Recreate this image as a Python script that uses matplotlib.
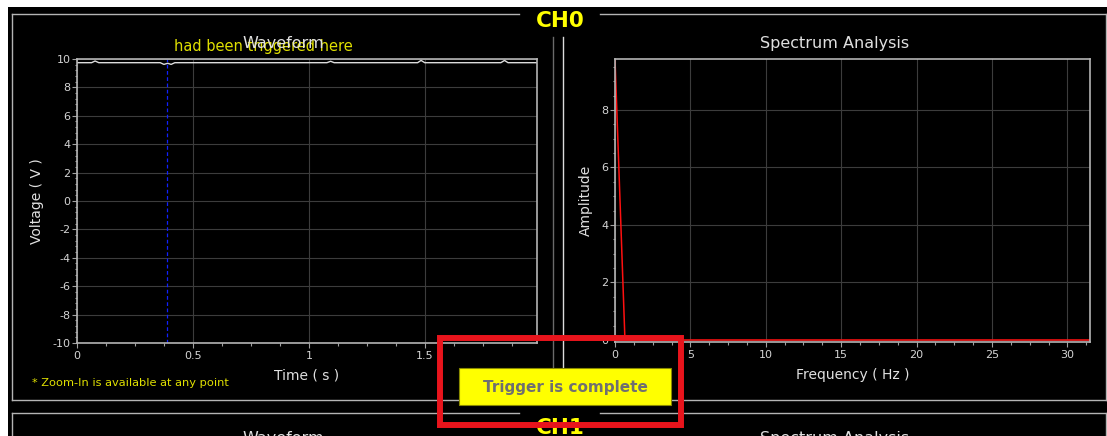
import matplotlib
matplotlib.use("Agg")
import matplotlib.pyplot as plt
from matplotlib.patches import Rectangle
from matplotlib.ticker import MultipleLocator, FormatStrFormatter

# waveform samples (time s, voltage V)
wave_t = [0.0, 0.063, 0.078, 0.094, 0.359, 0.375, 0.391, 0.406, 0.422,
          1.078, 1.094, 1.109, 1.469, 1.484, 1.5, 1.828, 1.844, 1.859, 1.984]
wave_v = [9.74, 9.74, 9.86, 9.74, 9.74, 9.62, 9.70, 9.62, 9.74,
          9.74, 9.84, 9.74, 9.74, 9.9, 9.74, 9.74, 9.9, 9.74, 9.74]
trigger_t = 0.39

# spectrum (Hz, amplitude)
freq = [0.0, 0.66, 31.5]
amp = [9.77, 0.0, 0.0]

W, H = 1107, 436


def px_box(x0, y0, x1, y1):
    return [x0 / W, 1 - y1 / H, (x1 - x0) / W, (y1 - y0) / H]


def style(ax):
    ax.set_facecolor("black")
    for s in ax.spines.values():
        s.set_color("#b4b4b4")
        s.set_linewidth(1.2)
    ax.grid(True, color="#3c3c3c", lw=0.8)
    ax.set_axisbelow(True)
    ax.tick_params(which="both", direction="out", colors="#a0a0a0",
                   labelcolor="#d4d4d4", labelsize=8)
    ax.tick_params(which="major", length=3.6, width=0.8, pad=1)
    ax.tick_params(which="minor", length=1.8, width=0.8)
    ax.tick_params(axis="x", which="major", pad=2.5)
    ax.xaxis.set_major_formatter(FormatStrFormatter("%g"))
    ax.yaxis.set_major_formatter(FormatStrFormatter("%g"))


fig = plt.figure(figsize=(W / 100, H / 100), dpi=100, facecolor="black")

# background: frame of the panels
bg = fig.add_axes([0, 0, 1, 1], zorder=-1)
bg.set_xlim(0, W)
bg.set_ylim(H, 0)
bg.axis("off")
bg.add_patch(Rectangle((0, 0), W, 7, color="white", lw=0))
bg.add_patch(Rectangle((0, 0), 8, H, color="white", lw=0))
edge = "#b4b4b4"
bg.plot([12, 519], [14, 14], color=edge, lw=1)
bg.plot([600, 1106], [14, 14], color=edge, lw=1)
bg.plot([12, 12], [14, 400], color=edge, lw=1)
bg.plot([1106, 1106], [14, 400], color=edge, lw=1)
bg.plot([12, 1106], [400, 400], color=edge, lw=1)
bg.plot([12, 519], [413, 413], color=edge, lw=1)
bg.plot([600, 1107], [413, 413], color=edge, lw=1)
bg.plot([12, 12], [413, H], color=edge, lw=1)
bg.plot([1106, 1106], [413, H], color=edge, lw=1)
bg.plot([553, 553], [37, 398], color="#6a6a6a", lw=1)
bg.plot([563, 563], [37, 398], color="#dcdcdc", lw=1)
bg.text(560, 21, "CH0", color="#ffff00", fontsize=15.5, fontweight="bold",
        ha="center", va="center")
bg.text(560, 418, "CH1", color="#ffff00", fontsize=15.5, fontweight="bold",
        ha="center", va="top")
bg.text(283, 431, "Waveform", color="#e0e0e0", fontsize=11.5, ha="center", va="top")
bg.text(835, 431, "Spectrum Analysis", color="#e0e0e0", fontsize=11.5,
        ha="center", va="top")
bg.text(32, 383, "* Zoom-In is available at any point", color="#e0e000",
        fontsize=8.2, ha="left", va="center")

# waveform
ax1 = fig.add_axes(px_box(77, 59, 537, 343))
style(ax1)
ax1.plot(wave_t, wave_v, color="#dcdcdc", lw=1)
ax1.axvline(trigger_t, color="#1020ff", lw=0.9, ls=(0, (3, 2)))
ax1.set_xlim(0, 1.984)
ax1.set_ylim(-10, 10)
ax1.xaxis.set_major_locator(MultipleLocator(0.5))
ax1.xaxis.set_minor_locator(MultipleLocator(0.125))
ax1.yaxis.set_major_locator(MultipleLocator(2))
ax1.yaxis.set_minor_locator(MultipleLocator(0.4))
ax1.set_title("Waveform", color="#e0e0e0", fontsize=11.5, x=0.448, y=1.056,
              va="center", pad=0)
ax1.set_xlabel("Time ( s )", color="#e0e0e0", fontsize=10, va="center")
ax1.xaxis.set_label_coords(0.5, -0.113)
ax1.set_ylabel("Voltage ( V )", color="#e0e0e0", fontsize=10, va="center")
ax1.yaxis.set_label_coords(-0.087, 0.5)
ax1.annotate("had been triggered here", xy=(trigger_t, 1),
             xycoords=("data", "axes fraction"), xytext=(7, 12),
             textcoords="offset pixels", color="#e0e000", fontsize=10.5,
             ha="left", va="center")

# spectrum
ax2 = fig.add_axes(px_box(615, 59, 1090, 342))
style(ax2)
ax2.plot(freq, amp, color="#ff1010", lw=1.1)
ax2.set_xlim(0, 31.5)
ax2.set_ylim(-0.07, 9.77)
ax2.xaxis.set_major_locator(MultipleLocator(5))
ax2.xaxis.set_minor_locator(MultipleLocator(1.25))
ax2.yaxis.set_major_locator(MultipleLocator(2))
ax2.yaxis.set_minor_locator(MultipleLocator(0.5))
ax2.set_title("Spectrum Analysis", color="#e0e0e0", fontsize=11.5, x=0.462,
              y=1.0565, va="center", pad=0)
ax2.set_xlabel("Frequency ( Hz )", color="#e0e0e0", fontsize=10, va="center")
ax2.xaxis.set_label_coords(0.5, -0.1166)
ax2.set_ylabel("Amplitude", color="#e0e0e0", fontsize=10, va="center")
ax2.yaxis.set_label_coords(-0.061, 0.5)

# foreground: status box and highlight
fg = fig.add_axes([0, 0, 1, 1], zorder=10)
fg.set_xlim(0, W)
fg.set_ylim(H, 0)
fg.axis("off")
fg.set_facecolor("none")
fg.add_patch(Rectangle((459, 368), 212, 37, facecolor="#ffff00",
                       edgecolor="#8a8a00", lw=0.8))
fg.text(565, 387, "Trigger is complete", color="#707070", fontsize=11,
        fontweight="bold", ha="center", va="center")
fg.add_patch(Rectangle((439.5, 338), 241, 87, fill=False,
                       edgecolor="#e8141c", lw=4.3))

fig.savefig("out.png", dpi=100, facecolor="black")
